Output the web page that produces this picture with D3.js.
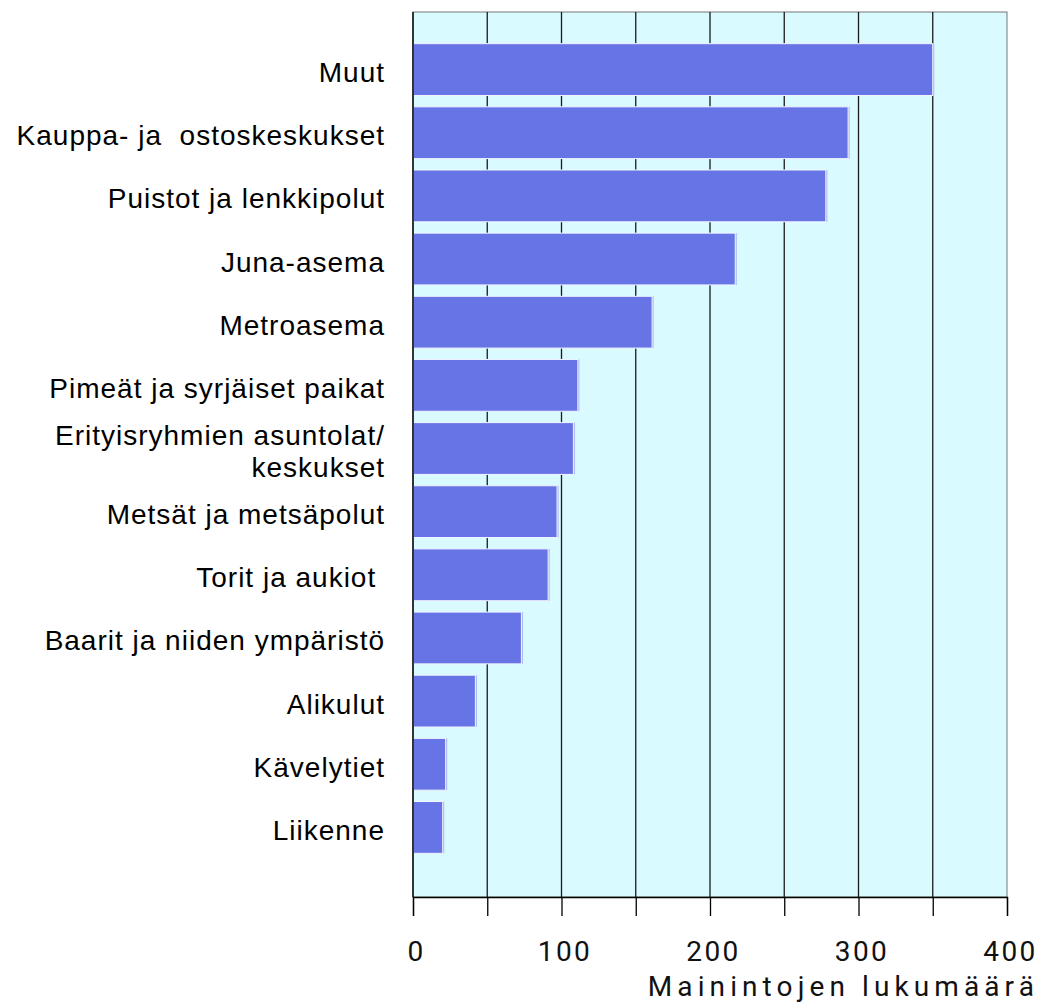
<!DOCTYPE html>
<html>
<head>
<meta charset="utf-8">
<script src="https://cdn.jsdelivr.net/npm/d3@7"></script>
<style>
  body { margin: 0; background: #fff; }
</style>
</head>
<body>
<div id="chart"></div>
<script>
// data
var categories = ["Muut", "Kauppa- ja  ostoskeskukset", "Puistot ja lenkkipolut", "Juna-asema",
  "Metroasema", "Pimeät ja syrjäiset paikat", "Erityisryhmien asuntolat/\nkeskukset",
  "Metsät ja metsäpolut", "Torit ja aukiot ", "Baarit ja niiden ympäristö", "Alikulut",
  "Kävelytiet", "Liikenne"];
var counts = [350, 293, 278, 217, 161, 111, 108, 97, 91, 73, 42, 22, 20];
var tickValues = [0, 100, 200, 300, 400];
var gridValues = [50, 100, 150, 200, 250, 300, 350];
var axisTitle = "Mainintojen lukumäärä";

var W = 1042, H = 1002;
var plot = {left: 413, right: 1007, top: 12, bottom: 897};

var svg = d3.select("#chart").append("svg")
  .attr("width", W)
  .attr("height", H);

var x = d3.scaleLinear().domain([0, 400]).range([plot.left, plot.right]);
var y = d3.scaleBand()
  .domain(categories)
  .range([38, 859])
  .paddingInner(0.18)
  .paddingOuter(0.09);

// background
svg.append("rect")
  .attr("x", plot.left).attr("y", plot.top)
  .attr("width", plot.right - plot.left).attr("height", plot.bottom - plot.top)
  .attr("fill", "#d9faff")
  .attr("stroke", "#777")
  .attr("stroke-width", 1);

// gridlines
svg.selectAll("line.grid")
  .data(gridValues)
  .enter().append("line")
    .attr("class", "grid")
    .attr("x1", d => x(d)).attr("x2", d => x(d))
    .attr("y1", plot.top).attr("y2", plot.bottom)
    .attr("stroke", "#1a1a1a")
    .attr("stroke-width", 1.3);

// bars (light shadow then bar)
svg.selectAll("rect.shadow")
  .data(counts)
  .enter().append("rect")
    .attr("class", "shadow")
    .attr("x", x(0))
    .attr("y", (d, i) => y(categories[i]))
    .attr("width", d => x(d) - x(0) + 1.5)
    .attr("height", y.bandwidth())
    .attr("fill", "#aab3f5");

svg.selectAll("rect.bar")
  .data(counts)
  .enter().append("rect")
    .attr("class", "bar")
    .attr("x", x(0))
    .attr("y", (d, i) => y(categories[i]))
    .attr("width", d => x(d) - x(0))
    .attr("height", y.bandwidth())
    .attr("fill", "#6674e6")
    .attr("stroke", "#f4f6ff")
    .attr("stroke-width", 1);

// left axis line
svg.append("line")
  .attr("x1", plot.left).attr("x2", plot.left)
  .attr("y1", plot.top).attr("y2", plot.bottom)
  .attr("stroke", "#333").attr("stroke-width", 2);

// category labels
var lab = svg.append("g")
  .attr("font-family", "'Liberation Sans', Arial, sans-serif")
  .attr("font-size", 28)
  .attr("letter-spacing", 1)
  .attr("fill", "#000")
  .attr("text-anchor", "end");

var lineGap = 31.5;
categories.forEach(function(c) {
  var lines = c.split("\n");
  var cy = y(c) + y.bandwidth() / 2 + 12.5 - (lines.length - 1) * lineGap / 2;
  lines.forEach(function(l, j) {
    lab.append("text")
      .attr("xml:space", "preserve")
      .attr("x", 385)
      .attr("y", cy + j * lineGap)
      .text(l);
  });
});

// bottom axis
var xAxis = d3.axisBottom(x)
  .tickValues([0, 50, 100, 150, 200, 250, 300, 350, 400])
  .tickSize(19)
  .tickFormat(d => tickValues.indexOf(d) >= 0 ? d : "");

var ax = svg.append("g")
  .attr("transform", "translate(0," + plot.bottom + ")")
  .call(xAxis);
ax.select(".domain").attr("stroke", "#000").attr("stroke-width", 1.3);
ax.selectAll(".tick line").attr("stroke", "#000").attr("stroke-width", 1.3);
ax.selectAll(".tick text")
  .attr("font-family", "Roboto, 'Noto Sans', sans-serif")
  .attr("font-size", 28)
  .attr("fill", "#111")
  .attr("y", 64)
  .attr("dy", null)
  .attr("letter-spacing", 2.5)
  .attr("dx", 3);

svg.append("text")
  .attr("x", 1039)
  .attr("y", 996)
  .attr("text-anchor", "end")
  .attr("font-family", "Roboto, 'Noto Sans', sans-serif")
  .attr("font-size", 28)
  .attr("letter-spacing", 5.1)
  .attr("fill", "#111")
  .text(axisTitle);
</script>
</body>
</html>
